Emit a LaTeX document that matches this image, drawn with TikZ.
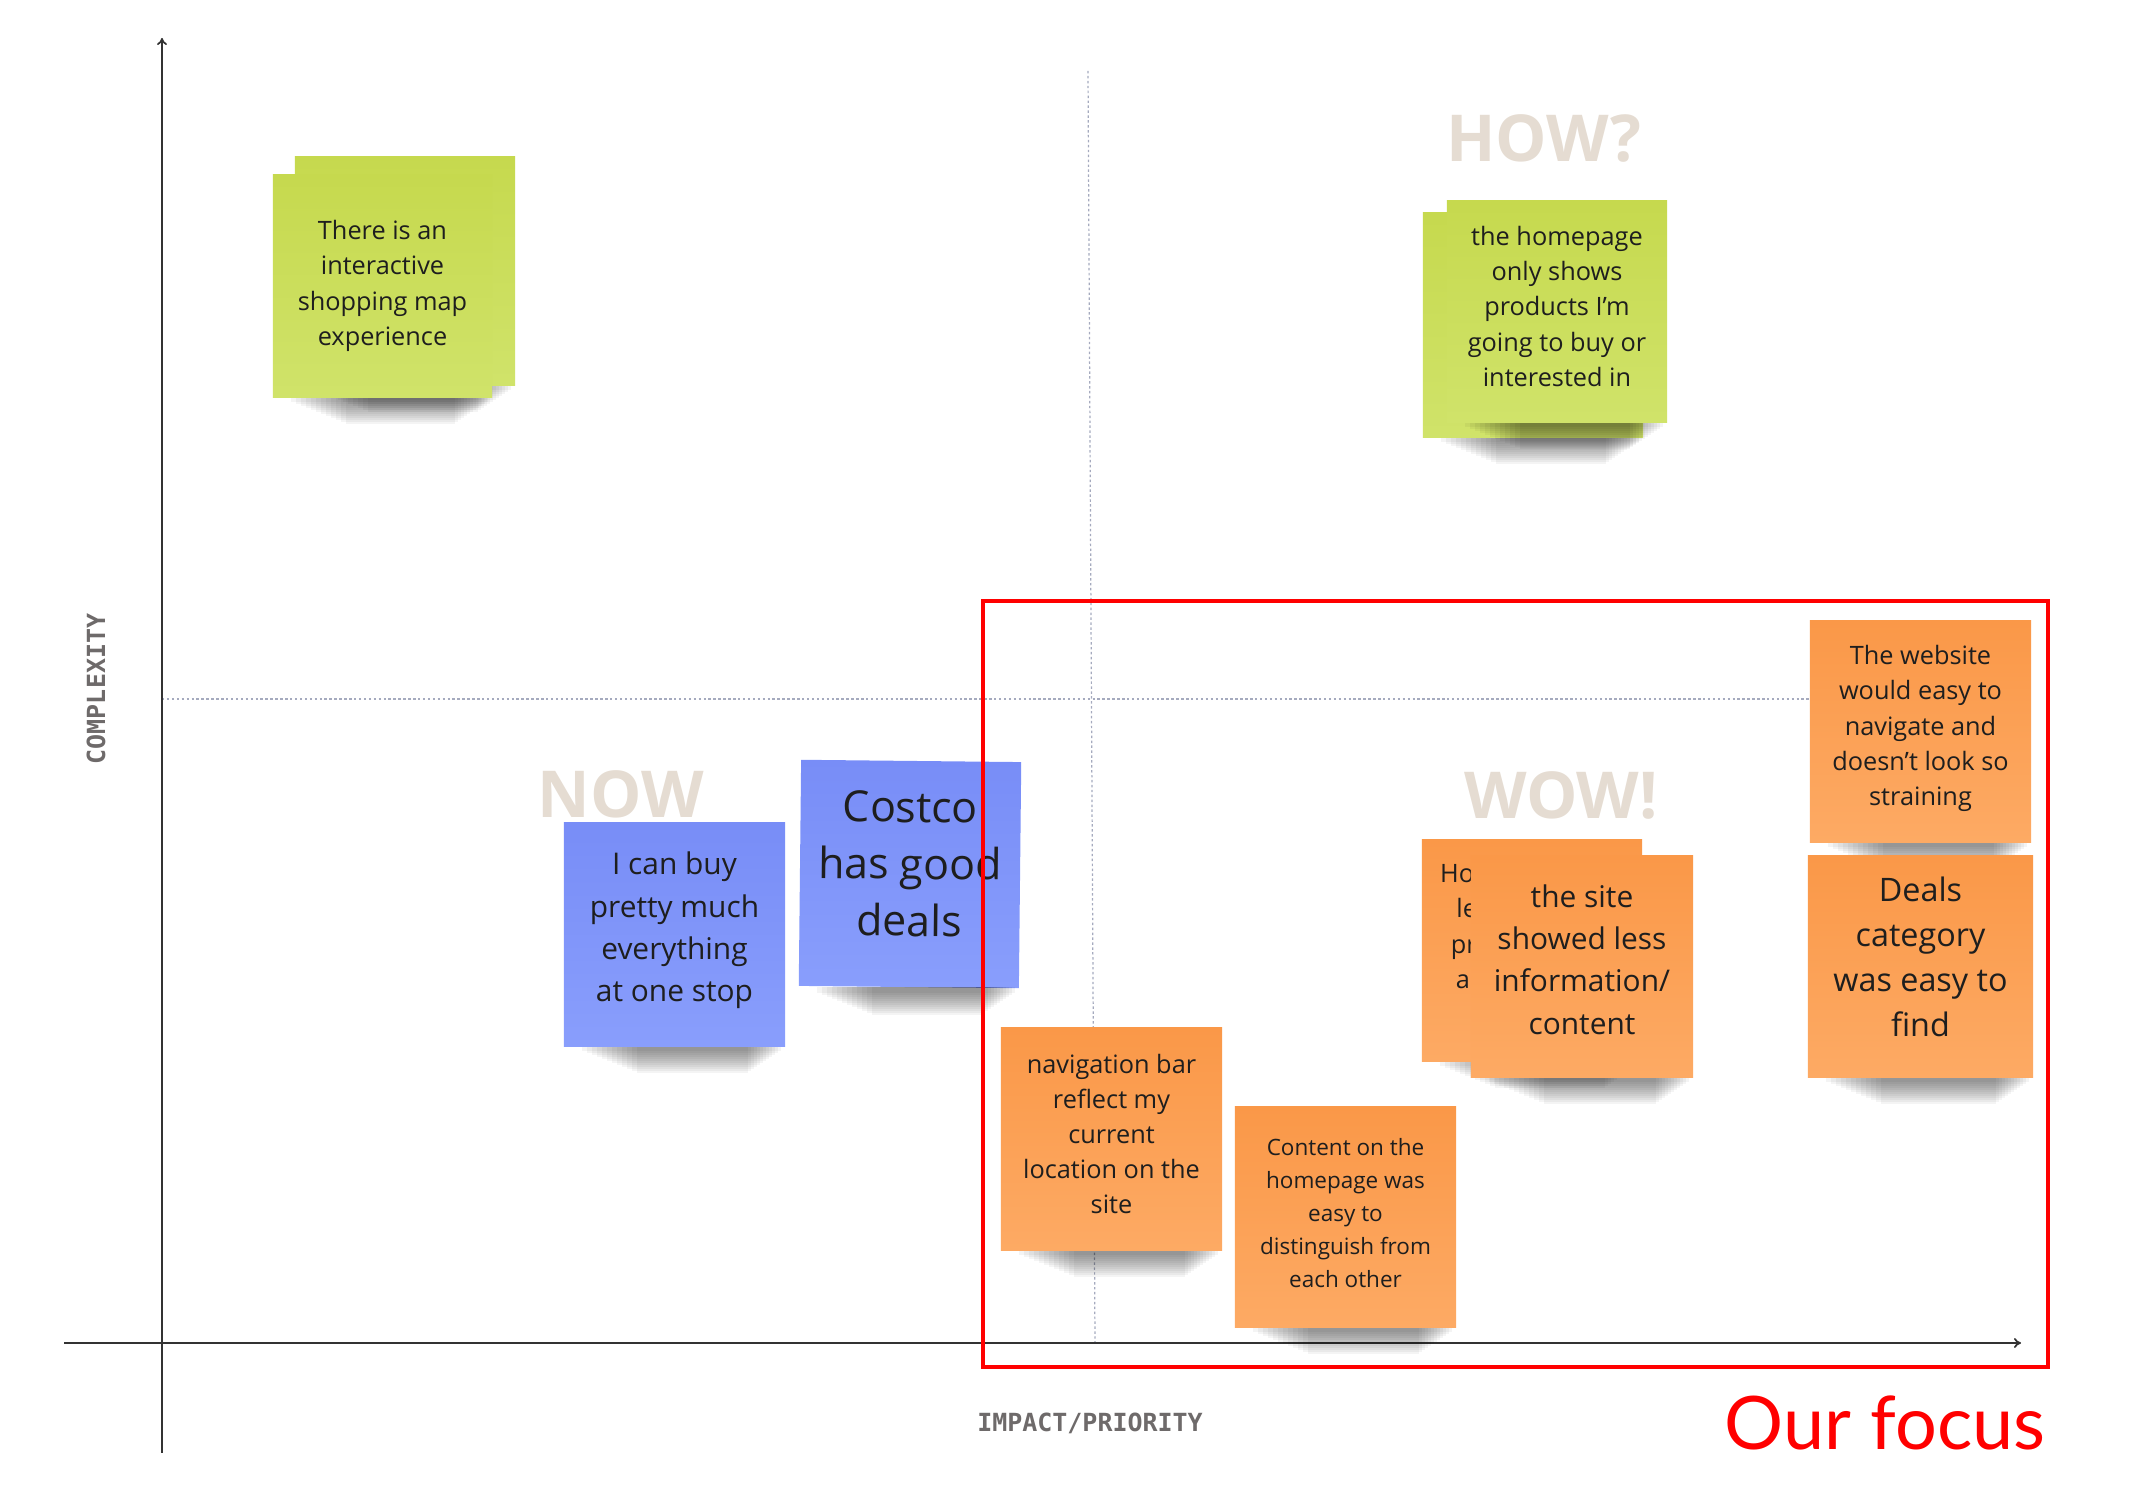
\documentclass[tikz,border=0pt]{standalone}
\usepackage{fontspec}
\setmainfont{Open Sans}
\newfontfamily\focusfont{Lato}
\newfontfamily\axisfont{DejaVu Sans Mono}
\usetikzlibrary{arrows.meta,calc}
\definecolor{gtop}{RGB}{198,217,78}
\definecolor{gbot}{RGB}{208,227,106}
\definecolor{btop}{RGB}{120,141,247}
\definecolor{bbot}{RGB}{137,158,252}
\definecolor{otop}{RGB}{250,152,72}
\definecolor{obot}{RGB}{253,170,100}
\definecolor{ink}{RGB}{30,30,30}
\definecolor{headc}{RGB}{229,220,210}
\definecolor{axc}{RGB}{110,106,106}
\definecolor{guidec}{RGB}{165,170,190}
\newcommand{\noteshadow}[1]{%
  \foreach \k in {1,...,12}
    \fill[black,opacity=0.045] ($(#1.south west)+(14+5*\k,0)$) rectangle ($(#1.south east)+(-2-3*\k,2+2*\k)$);}

\begin{document}
\begin{tikzpicture}[x=0.01cm, y=-0.01cm,
  note/.style={inner sep=0pt, minimum width=2.2cm, minimum height=2.22cm},
  gnote/.style={note, top color=gtop, bottom color=gbot},
  bnote/.style={note, top color=btop, bottom color=bbot},
  onote/.style={note, top color=otop, bottom color=obot},
  ntext/.style={align=center, inner sep=0pt, text=ink, font=\fontsize{7.2}{10}\selectfont},
  head/.style={text=headc, font=\bfseries\fontsize{18.4}{21}\selectfont, anchor=base},
  axlabel/.style={text=axc, font=\axisfont\bfseries\fontsize{7.1}{8}\selectfont},
  guide/.style={draw=guidec, line width=0.35pt, dash pattern=on 0.7pt off 0.7pt},
  axis/.style={draw=black!80, line width=0.5pt, -{To[length=0.7mm,width=1mm]}}]
    \useasboundingbox (0,0) rectangle (2150,1489);

    % axes and quadrant guides
    \coordinate (ybot) at (162,1453);
    \coordinate (ytop) at (162,38);
    \coordinate (xl) at (64,1343);
    \coordinate (xr) at (2021,1343);
    \coordinate (vtop) at (1088,71);
    \coordinate (vbot) at (1095,1343);
    \coordinate (hl) at (162,699);
    \coordinate (hr) at (1900,699);
    \draw[guide] (vtop) -- (vbot);
    \draw[guide] (hl) -- (hr);
    \draw[axis] (ybot) -- (ytop);
    \draw[axis] (xl) -- (xr);

    \node[axlabel, rotate=90] (ylab) at (96,689) {COMPLEXITY};
    \node[axlabel] (xlab) at (1090,1423) {IMPACT/PRIORITY};

    \node[head] (how) at (1544,162) {HOW?};
    \node[head] (now) at (621,818) {NOW};
    \node[head] (wow) at (1561,819) {WOW!};

    % green notes
    \node[gnote, minimum height=2.28cm] (g1b) at (405,271) {};
    \noteshadow{g1b}
    \node[gnote, minimum width=2.19cm] (g1) at (382.5,286) {};
    \noteshadow{g1}
    \node[ntext] (g1t) at (g1.center) {There is an\\interactive\\shopping map\\experience};
    \node[gnote, minimum height=2.24cm] (g2b) at (1533,325) {};
    \noteshadow{g2b}
    \node[gnote, minimum height=2.21cm] (g2) at (1557,311.5) {};
    \noteshadow{g2}
    \node[ntext] (g2t) at ($(g2.center)+(0,-5)$) {the homepage\\only shows\\products I'm\\going to buy or\\interested in};

    % blue notes
    \node[bnote, minimum width=2.21cm, minimum height=2.23cm] (b1) at (674.5,934.5) {};
    \noteshadow{b1}
    \node[ntext, font=\fontsize{8.5}{12}\selectfont] (b1t) at ($(b1.center)+(0,-4)$) {I can buy\\pretty much\\everything\\at one stop};
    \node[bnote, minimum height=2.26cm, rotate=-0.6] (b2) at (910,874) {};
    \noteshadow{b2}
    \node[ntext, rotate=-0.6, font=\fontsize{12.2}{16.2}\selectfont] (b2t) at ($(b2.center)+(0,-10)$) {Costco\\has good\\deals};

    % orange notes
    \node[onote, minimum width=2.21cm] (o1) at (1111.5,1139) {};
    \noteshadow{o1}
    \node[ntext] (o1t) at ($(o1.center)+(0,-5)$) {navigation bar\\reflect my\\current\\location on the\\site};
    \node[onote, minimum width=2.21cm, minimum height=2.2cm] (o2) at (1345.5,1217) {};
    \noteshadow{o2}
    \node[ntext, font=\fontsize{6.4}{9.4}\selectfont] (o2t) at ($(o2.center)+(0,-4)$) {Content on the\\homepage was\\easy to\\distinguish from\\each other};
    \node[onote, minimum height=2.21cm] (o3b) at (1532,950.5) {};
    \noteshadow{o3b}
    \node[ntext] (o3bt) at ($(o3b.center)+(-3,-4)$) {Homepage has\\less random\\products and\\aesthetically\\appealing};
    \node[onote, minimum width=2.22cm, minimum height=2.21cm] (o3) at (1582,966.5) {};
    \noteshadow{o3}
    \node[ntext, font=\fontsize{8.5}{12}\selectfont] (o3t) at ($(o3.center)+(0,-7)$) {the site\\showed less\\information/\\content};
    \node[onote, minimum width=2.21cm, minimum height=2.21cm] (o4) at (1920.5,731.5) {};
    \noteshadow{o4}
    \node[ntext] (o4t) at ($(o4.center)+(0,-3)$) {The website\\would easy to\\navigate and\\doesn’t look so\\straining};
    \node[onote, minimum width=2.25cm, minimum height=2.21cm] (o5) at (1920.5,966.5) {};
    \noteshadow{o5}
    \node[ntext, font=\fontsize{9.2}{12.8}\selectfont] (o5t) at ($(o5.center)+(0,-10)$) {Deals\\category\\was easy to\\find};

    % focus frame
    \coordinate (fa) at (983,601);
    \coordinate (fb) at (2048,1367);
    \draw[red, line width=1.15pt] (fa) rectangle (fb);
    \node[text=red, font=\focusfont\fontsize{21}{24}\selectfont, anchor=base] (focus) at (1885,1450) {Our focus};
\end{tikzpicture}
\end{document}
